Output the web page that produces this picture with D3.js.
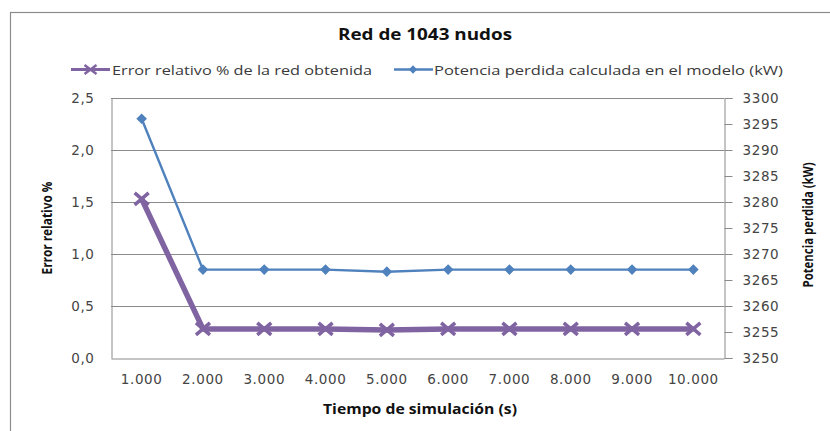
<!DOCTYPE html>
<html>
<head>
<meta charset="utf-8">
<script src="https://cdn.jsdelivr.net/npm/d3@7"></script>
<style>
  html, body { margin: 0; padding: 0; background: #fff; }
  svg { display: block; }
</style>
</head>
<body>
<svg id="chart" width="830" height="431"></svg>
<script>
// Simulation times (s) and the two measured series
const categories = ["1.000", "2.000", "3.000", "4.000", "5.000", "6.000", "7.000", "8.000", "9.000", "10.000"];
const errorRelativo = [1.53, 0.28, 0.28, 0.28, 0.27, 0.28, 0.28, 0.28, 0.28, 0.28];
const potenciaPerdida = [3296, 3267, 3267, 3267, 3266.6, 3267, 3267, 3267, 3267, 3267];
const leftTicks = [0, 0.5, 1.0, 1.5, 2.0, 2.5];
const rightTicks = [3250, 3255, 3260, 3265, 3270, 3275, 3280, 3285, 3290, 3295, 3300];

const titleText = "Red de 1043 nudos";
const seriesNames = ["Error relativo % de la red obtenida", "Potencia perdida calculada en el modelo (kW)"];
const xTitle = "Tiempo de simulación (s)";
const yLeftTitle = "Error relativo %";
const yRightTitle = "Potencia perdida (kW)";

const purple = "#8064A2";
const blue = "#4F81BD";
const tickFont = "'DejaVu Sans', Verdana, sans-serif";
const textFont = "'Open Sans', Lato, sans-serif";
const narrowFont = "'Liberation Sans Narrow', 'Open Sans', sans-serif";

const svg = d3.select("#chart");
const plot = { left: 111, right: 724, top: 98, bottom: 358 };

// outer frame
svg.append("rect")
  .attr("x", 10.5).attr("y", 12.5).attr("width", 830).attr("height", 430)
  .attr("fill", "#fff").attr("stroke", "#8c8c8c").attr("stroke-width", 1.2);

const x = d3.scaleBand().domain(categories).range([plot.left, plot.right]);
const yL = d3.scaleLinear().domain([0, 2.5]).range([plot.bottom, plot.top]);
const yR = d3.scaleLinear().domain([3250, 3300]).range([plot.bottom, plot.top]);
const fmtL = v => d3.format(".1f")(v).replace(".", ",");

// horizontal gridlines
svg.append("g").selectAll("line").data(leftTicks.slice(1)).join("line")
  .attr("x1", plot.left).attr("x2", plot.right)
  .attr("y1", d => Math.round(yL(d)) + 0.5).attr("y2", d => Math.round(yL(d)) + 0.5)
  .attr("stroke", "#8a8a8a").attr("stroke-width", 1);

function styleTicks(g) {
  g.selectAll("text").attr("font-family", tickFont).attr("font-size", 13.5)
    .attr("letter-spacing", 0.6).attr("fill", "#444");
}

// left axis
const gL = svg.append("g").attr("transform", `translate(${plot.left + 0.5},0)`)
  .call(d3.axisLeft(yL).tickValues(leftTicks).tickFormat(fmtL).tickSize(0).tickPadding(17));
gL.select(".domain").attr("stroke", "#8a8a8a");
styleTicks(gL);

// right axis
const gR = svg.append("g").attr("transform", `translate(${plot.right + 0.5},0)`)
  .call(d3.axisRight(yR).tickValues(rightTicks).tickFormat(d3.format("d")).tickSize(8).tickPadding(10));
gR.select(".domain").attr("stroke", "#8a8a8a");
gR.selectAll(".tick line").attr("stroke", "#8a8a8a");
styleTicks(gR);

// bottom axis
const gB = svg.append("g").attr("transform", `translate(0,${plot.bottom + 0.5})`)
  .call(d3.axisBottom(x).tickSize(0).tickPadding(16));
gB.select(".domain").attr("stroke", "#8a8a8a");
styleTicks(gB);

const cx = d => x(d) + x.bandwidth() / 2;

// potencia perdida series (right axis)
svg.append("path")
  .datum(potenciaPerdida)
  .attr("fill", "none").attr("stroke", blue).attr("stroke-width", 2.4)
  .attr("d", d3.line().x((d, i) => cx(categories[i])).y(d => yR(d)));
svg.append("g").selectAll("path").data(potenciaPerdida).join("path")
  .attr("transform", (d, i) => `translate(${cx(categories[i])},${yR(d)})`)
  .attr("d", d3.symbol(d3.symbolDiamond2, 72)())
  .attr("fill", blue);

// error relativo series (left axis)
svg.append("path")
  .datum(errorRelativo)
  .attr("fill", "none").attr("stroke", purple).attr("stroke-width", 5.5)
  .attr("stroke-linejoin", "round")
  .attr("d", d3.line().x((d, i) => cx(categories[i])).y(d => yL(d)));
const xMark = "M-7,-6L7,6M-7,6L7,-6";
svg.append("g").selectAll("path").data(errorRelativo).join("path")
  .attr("transform", (d, i) => `translate(${cx(categories[i])},${yL(d)})`)
  .attr("d", xMark)
  .attr("stroke", purple).attr("stroke-width", 3.5).attr("fill", "none");

// title
svg.append("text").attr("x", 425).attr("y", 40).attr("text-anchor", "middle")
  .attr("font-family", textFont).attr("font-weight", "bold").attr("font-size", 16)
  .attr("textLength", 174).attr("lengthAdjust", "spacingAndGlyphs")
  .attr("fill", "#111").text(titleText);

// legend
const lg = svg.append("g").attr("font-family", textFont).attr("font-size", 13.5).attr("fill", "#3a3a3a");
lg.append("line").attr("x1", 71).attr("x2", 110).attr("y1", 69.5).attr("y2", 69.5)
  .attr("stroke", purple).attr("stroke-width", 3);
lg.append("path").attr("transform", "translate(90.5,69.5)").attr("d", "M-6,-4.5L6,4.5M-6,4.5L6,-4.5")
  .attr("stroke", purple).attr("stroke-width", 2.5);
lg.append("text").attr("x", 112).attr("y", 74.5)
  .attr("textLength", 260).attr("lengthAdjust", "spacingAndGlyphs").text(seriesNames[0]);
lg.append("line").attr("x1", 394).attr("x2", 433).attr("y1", 69.5).attr("y2", 69.5)
  .attr("stroke", blue).attr("stroke-width", 2.4);
lg.append("path").attr("transform", "translate(413,69.5)").attr("d", d3.symbol(d3.symbolDiamond2, 44)())
  .attr("fill", blue);
lg.append("text").attr("x", 434).attr("y", 74.5)
  .attr("textLength", 349).attr("lengthAdjust", "spacingAndGlyphs").text(seriesNames[1]);

// axis titles
svg.append("text").attr("x", 420).attr("y", 414).attr("text-anchor", "middle")
  .attr("font-family", textFont).attr("font-weight", "bold").attr("font-size", 13.5)
  .attr("textLength", 194).attr("lengthAdjust", "spacingAndGlyphs")
  .attr("fill", "#111").text(xTitle);
svg.append("text").attr("transform", "translate(52,228) rotate(-90)").attr("text-anchor", "middle")
  .attr("font-family", narrowFont).attr("font-weight", "bold").attr("font-size", 15)
  .attr("textLength", 93).attr("lengthAdjust", "spacingAndGlyphs")
  .attr("fill", "#111").text(yLeftTitle);
svg.append("text").attr("transform", "translate(813,225) rotate(-90)").attr("text-anchor", "middle")
  .attr("font-family", narrowFont).attr("font-weight", "bold").attr("font-size", 15)
  .attr("textLength", 125).attr("lengthAdjust", "spacingAndGlyphs")
  .attr("fill", "#111").text(yRightTitle);
</script>
</body>
</html>
